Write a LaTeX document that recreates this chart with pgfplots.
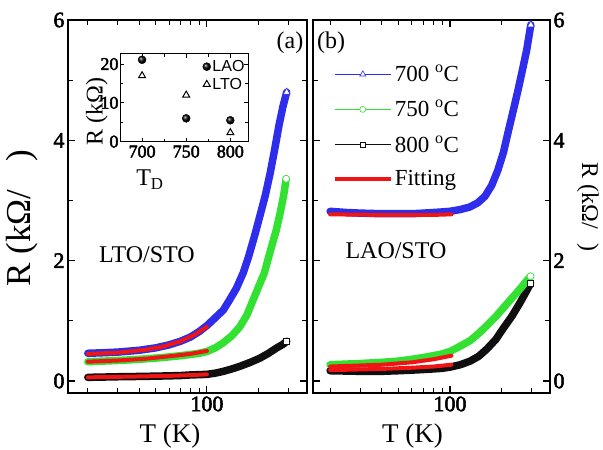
\documentclass[border=0pt]{standalone}
\usepackage{fontspec}
\setmainfont{Liberation Serif}[BoldFont={Liberation Serif}, BoldFeatures={FakeBold=2.5}]
\setsansfont{Liberation Sans}
\usepackage{pgfplots}
\usepackage{pgfplotstable}
\pgfplotsset{compat=1.18}
\definecolor{cblue}{RGB}{45,45,235}
\definecolor{cgreen}{RGB}{50,225,50}
\definecolor{cred}{RGB}{240,20,20}
\definecolor{cblack}{RGB}{15,15,15}

% ---- panel (a) LTO/STO ----
\pgfplotstableread{
T R
20 0.46
25 0.47
30 0.48
40 0.51
50 0.55
60 0.60
70 0.66
80 0.73
90 0.82
100 0.92
110 1.03
125 1.18
136 1.35
149 1.54
163 1.79
175 2.05
190 2.40
205 2.75
220 3.08
235 3.45
250 3.85
265 4.25
280 4.57
294 4.80
}\aBlue
\pgfplotstableread{
T R
20 0.32
30 0.34
40 0.36
50 0.38
60 0.40
70 0.42
80 0.44
90 0.46
100 0.49
112 0.55
124 0.63
140 0.75
156 0.90
172 1.10
187 1.35
200 1.55
217 1.79
240 2.24
255 2.50
269 2.79
282 3.08
292 3.36
}\aGreen
\pgfplotstableread{
T R
20 0.06
30 0.07
40 0.075
50 0.08
60 0.085
70 0.09
80 0.10
90 0.105
100 0.11
112 0.13
125 0.16
140 0.20
155 0.24
180 0.31
205 0.38
230 0.46
257 0.55
280 0.61
294 0.66
}\aBlack
\pgfplotstableread{
T R
20 0.45
30 0.47
44 0.52
55 0.57
70 0.66
85 0.77
100 0.90
}\aFitBlue
\pgfplotstableread{
T R
20 0.32
30 0.34
44 0.37
60 0.41
80 0.45
100 0.50
}\aFitGreen
\pgfplotstableread{
T R
20 0.06
40 0.075
60 0.085
80 0.097
100 0.11
}\aFitBlack

% ---- panel (b) LAO/STO ----
\pgfplotstableread{
T R
20 2.82
25 2.80
30 2.79
40 2.78
50 2.78
60 2.78
70 2.79
80 2.80
90 2.81
100 2.82
115 2.85
130 2.89
145 2.96
160 3.07
175 3.25
190 3.50
205 3.80
220 4.18
235 4.52
250 4.85
265 5.18
280 5.50
296 5.92
}\bBlue
\pgfplotstableread{
T R
20 0.27
30 0.29
40 0.31
50 0.33
60 0.36
70 0.39
80 0.42
90 0.45
100 0.49
115 0.58
131 0.67
147 0.79
164 0.92
185 1.07
204 1.21
230 1.38
256 1.53
275 1.64
295 1.74
}\bGreen
\pgfplotstableread{
T R
20 0.17
30 0.16
40 0.16
50 0.17
60 0.18
70 0.19
80 0.20
90 0.21
100 0.23
115 0.27
131 0.33
147 0.41
164 0.53
185 0.69
204 0.87
230 1.08
256 1.30
275 1.46
295 1.62
}\bBlack
\pgfplotstableread{
T R
20 2.77
40 2.76
60 2.76
80 2.76
102 2.77
}\bFitBlue
\pgfplotstableread{
T R
20 0.24
40 0.27
60 0.31
80 0.36
102 0.42
}\bFitGreen
\pgfplotstableread{
T R
20 0.18
40 0.20
60 0.22
80 0.24
102 0.27
}\bFitBlack

\tikzset{
  band/.style={line width=7.5pt, line join=round, line cap=round},
  fitl/.style={line width=4pt, cred, line cap=round},
}
\newcommand{\mytl}[1]{\textbf{\fontsize{22}{22}\selectfont #1}}
\newcommand{\myxl}[1]{\raisebox{-9pt}{\textbf{\fontsize{22}{22}\selectfont #1}}}
\newcommand{\myil}[1]{\textbf{\fontsize{18}{18}\selectfont #1}}
\newcommand{\myixl}[1]{\raisebox{-4pt}{\textbf{\fontsize{18}{18}\selectfont #1}}}

\begin{document}
\begin{tikzpicture}[x=1pt,y=1pt]
\useasboundingbox (0,0) rectangle (603,450);

% ---------------- panel (a) ----------------
\begin{axis}[at={(68pt,57pt)}, anchor=south west,
  scale only axis, width=239pt, height=373pt,
  xmode=log, xmin=15.3, xmax=387, ymin=-0.2, ymax=6,
  axis line style={line width=1.3pt},
  tick style={line width=1.1pt, black},
  tick align=inside,
  major tick length=7pt, minor tick length=5pt,
  xtick={100}, xticklabels={\myxl{100}},
  minor xtick={20,30,40,50,60,70,80,90,200,300},
  ytick={0,2,4,6}, minor ytick={1,3,5},
  yticklabels={\mytl{0},\mytl{2},\mytl{4},\mytl{6}},
  xlabel={T (K)},
  xlabel style={font=\fontsize{27}{27}\selectfont, at={(axis description cs:0.427,-0.115)}, anchor=center},
  ylabel={R (kΩ/\hspace{0.8em})},
  ylabel style={font=\fontsize{35}{35}\selectfont, at={(axis description cs:-0.192,0.469)}, anchor=center},
]
\addplot[band, cblue, no marks] table[x=T,y=R] {\aBlue};
\addplot[band, cgreen, no marks] table[x=T,y=R] {\aGreen};
\addplot[band, cblack, no marks] table[x=T,y=R] {\aBlack};
\addplot[fitl, no marks] table[x=T,y=R] {\aFitBlue};
\addplot[fitl, no marks] table[x=T,y=R] {\aFitGreen};
\addplot[fitl, no marks] table[x=T,y=R] {\aFitBlack};
\addplot[only marks, cblue, mark=triangle*, mark size=4pt, mark options={fill=white, line width=0.6pt}] coordinates {(294,4.80)};
\addplot[only marks, cgreen, mark=*, mark size=3.5pt, mark options={fill=white, line width=0.6pt}] coordinates {(292,3.36)};
\addplot[only marks, cblack, mark=square*, mark size=3pt, mark options={fill=white, line width=0.6pt}] coordinates {(294,0.66)};
\node[font=\fontsize{24}{24}\selectfont] at (rel axis cs:0.929,0.938) {(a)};
\node[font=\fontsize{24}{24}\selectfont] at (rel axis cs:0.33,0.37) {LTO/STO};
\end{axis}

% ---------------- inset ----------------
\begin{axis}[at={(120pt,308pt)}, anchor=south west, scale only axis,
  width=128pt, height=88pt,
  xmin=675, xmax=820, ymin=-0.1, ymax=22.6,
  xtick={700,750,800}, minor xtick={725,775},
  ytick={0,10,20}, minor ytick={5,15},
  xticklabels={\myixl{700},\myixl{750},\myixl{800}}, yticklabels={\myil{0},\myil{10},\myil{20}},
  tick align=inside, major tick length=4pt, minor tick length=3pt,
  axis line style={line width=1pt}, tick style={line width=0.8pt, black},
  yticklabel style={xshift=2pt},
  xlabel={T\textsubscript{D}},
  ylabel={R (kΩ)},
  xlabel style={font=\fontsize{24}{24}\selectfont, at={(axis description cs:0.234,-0.43)}, anchor=center},
  ylabel style={font=\fontsize{24}{24}\selectfont, at={(axis description cs:-0.18,0.35)}, anchor=center},
  axis background/.style={fill=white},
  legend style={at={(0.62,0.97)}, anchor=north west, draw=none, fill=none,
    font=\sffamily\fontsize{16}{17}\selectfont, row sep=2pt,
    nodes={inner sep=1.5pt}},
  legend cell align=left,
]
\addplot[only marks, mark=ball, mark size=4pt, mark options={ball color=black}] coordinates {(700,21.1) (750,6.0) (800,5.5)};
\addlegendentry{LAO}
\addplot[only marks, black, mark=triangle, mark size=4pt, mark options={line width=1pt}] coordinates {(700,17.0) (750,12.0) (800,2.3)};
\addlegendentry{LTO}
\end{axis}

% ---------------- panel (b) ----------------
\begin{axis}[at={(313pt,57pt)}, anchor=south west,
  scale only axis, width=237pt, height=373pt,
  xmode=log, xmin=15.9, xmax=383, ymin=-0.2, ymax=6,
  axis line style={line width=1.3pt},
  tick style={line width=1.1pt, black},
  tick align=inside,
  major tick length=7pt, minor tick length=5pt,
  xtick={100}, xticklabels={\myxl{100}},
  minor xtick={20,30,40,50,60,70,80,90,200,300},
  ytick={0,2,4,6}, minor ytick={1,3,5},
  yticklabels={\mytl{0},\mytl{2},\mytl{4},\mytl{6}},
  yticklabel pos=right,
  xlabel={T (K)},
  xlabel style={font=\fontsize{27}{27}\selectfont, at={(axis description cs:0.42,-0.115)}, anchor=center},
  ylabel={R (kΩ/\hspace{0.6em})},
  ylabel style={font=\fontsize{24}{24}\selectfont, at={(axis description cs:1.16,0.499)}, anchor=center, rotate=180},
  legend style={at={(0.07,0.89)}, anchor=north west, draw=none, fill=none,
    font=\fontsize{23}{23}\selectfont, row sep=13pt},
  legend cell align=left,
  legend image code/.code={\draw[mark repeat=2,mark phase=2,#1] plot coordinates {(0pt,0pt) (28pt,0pt) (56pt,0pt)};},
]
\addlegendimage{cblue, line width=1pt, mark=triangle*, mark size=3.5pt, mark options={fill=white, line width=0.6pt}}
\addlegendentry{700 \textsuperscript{o}C}
\addlegendimage{cgreen, line width=1pt, mark=*, mark size=3pt, mark options={fill=white, line width=0.6pt}}
\addlegendentry{750 \textsuperscript{o}C}
\addlegendimage{cblack, line width=1pt, mark=square*, mark size=2.5pt, mark options={fill=white, line width=0.6pt}}
\addlegendentry{800 \textsuperscript{o}C}
\addlegendimage{cred, line width=4pt}
\addlegendentry{Fitting}
\addplot[band, cblue, no marks, forget plot] table[x=T,y=R] {\bBlue};
\addplot[band, cblack, no marks, forget plot] table[x=T,y=R] {\bBlack};
\addplot[band, cgreen, no marks, forget plot] table[x=T,y=R] {\bGreen};
\addplot[fitl, no marks, forget plot] table[x=T,y=R] {\bFitBlue};
\addplot[fitl, no marks, forget plot] table[x=T,y=R] {\bFitGreen};
\addplot[fitl, no marks, forget plot] table[x=T,y=R] {\bFitBlack};
\addplot[only marks, forget plot, cblue, mark=triangle*, mark size=4pt, mark options={fill=white, line width=0.6pt}] coordinates {(296,5.92)};
\addplot[only marks, forget plot, cgreen, mark=*, mark size=3.5pt, mark options={fill=white, line width=0.6pt}] coordinates {(295,1.74)};
\addplot[only marks, forget plot, cblack, mark=square*, mark size=3pt, mark options={fill=white, line width=0.6pt}] coordinates {(295,1.62)};
\node[font=\fontsize{24}{24}\selectfont] at (rel axis cs:0.076,0.938) {(b)};
\node[font=\fontsize{24}{24}\selectfont] at (rel axis cs:0.35,0.381) {LAO/STO};
\end{axis}
\end{tikzpicture}
\end{document}
